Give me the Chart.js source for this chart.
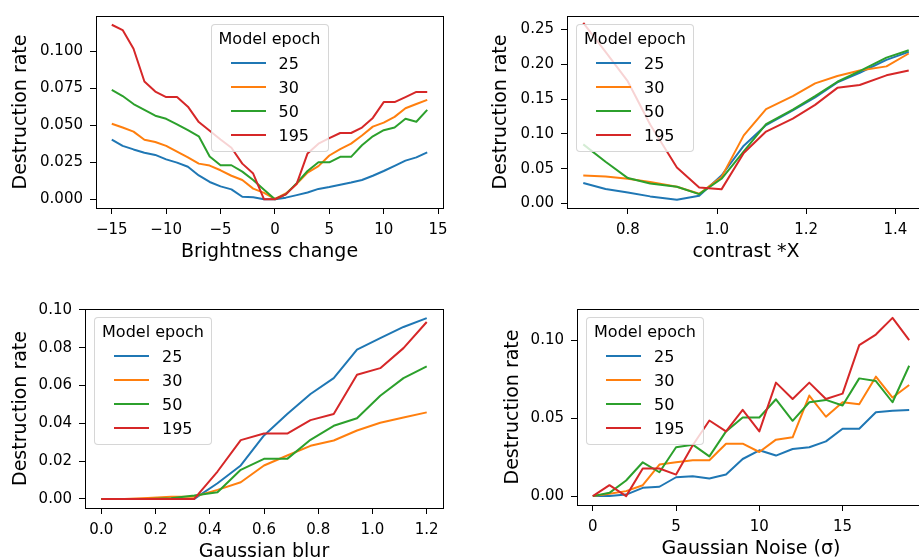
<!DOCTYPE html>
<html>
<head>
<meta charset="utf-8">
<script src="https://cdn.jsdelivr.net/npm/chart.js@4.4.0/dist/chart.umd.min.js"></script>
<style>
  html, body { margin: 0; padding: 0; background: #fff; overflow: hidden; width: 919px; height: 558px; }
  .panel { position: absolute; }
  .legend {
    position: absolute; box-sizing: border-box; width: 118px; padding: 2px 0 4px;
    background: rgba(255,255,255,0.8); border: 1px solid rgba(204,204,204,0.8); border-radius: 4px;
    font: 16px "DejaVu Sans"; color: #000;
  }
  .legend .title { text-align: center; line-height: 24px; white-space: nowrap; }
  .legend .row { display: flex; align-items: center; height: 24px; padding-left: 19px; }
  .legend .swatch { width: 35px; height: 2px; margin-right: 13px; }
</style>
</head>
<body>
<div class="panel" style="left:0;top:0"><canvas id="bright" width="460" height="267"></canvas><div class="legend" id="legBright"></div></div>
<div class="panel" style="left:480px;top:0"><canvas id="contrast" width="470" height="267"></canvas><div class="legend" id="legContrast"></div></div>
<div class="panel" style="left:0;top:290px"><canvas id="blur" width="460" height="277"></canvas><div class="legend" id="legBlur"></div></div>
<div class="panel" style="left:492px;top:290px"><canvas id="noise" width="458" height="274"></canvas><div class="legend" id="legNoise"></div></div>
<script>
const epochs = ['25', '30', '50', '195'];
const colors = ['#1f77b4', '#ff7f0e', '#2ca02c', '#d62728'];

// brightness shift
const brightX = [-15,-14,-13,-12,-11,-10,-9,-8,-7,-6,-5,-4,-3,-2,-1,0,1,2,3,4,5,6,7,8,9,10,11,12,13,14];
const bright25 = [0.0404,0.0361,0.0337,0.0315,0.0300,0.0270,0.0248,0.0220,0.0161,0.0117,0.0087,0.0067,0.0017,0.0013,0,0,0.0011,0.0028,0.0046,0.0070,0.0083,0.0098,0.0113,0.0130,0.0159,0.0191,0.0226,0.0261,0.0283,0.0317];
const bright30 = [0.0511,0.0485,0.0457,0.0402,0.0387,0.0361,0.0322,0.0283,0.0241,0.0228,0.0196,0.0159,0.0130,0.0072,0.0043,0.0002,0.0039,0.0104,0.0180,0.0224,0.0296,0.0339,0.0376,0.0431,0.0491,0.0518,0.0557,0.0615,0.0644,0.0672];
const bright50 = [0.0739,0.0698,0.0644,0.0604,0.0565,0.0544,0.0507,0.0467,0.0426,0.0289,0.0230,0.0230,0.0187,0.0130,0.0065,0,0.0033,0.0109,0.0191,0.0250,0.0250,0.0287,0.0287,0.0365,0.0426,0.0467,0.0485,0.0544,0.0524,0.0604];
const bright195 = [0.1180,0.1144,0.1018,0.0796,0.0728,0.0691,0.0691,0.0626,0.0522,0.0463,0.0404,0.0348,0.0241,0.0174,0,0,0.0033,0.0104,0.0310,0.0376,0.0413,0.0448,0.0448,0.0485,0.0550,0.0657,0.0657,0.0691,0.0726,0.0726];

// contrast factor
const contrastX = [0.70,0.75,0.80,0.85,0.91,0.96,1.01,1.06,1.11,1.17,1.22,1.27,1.32,1.38,1.43];
const contrast25 = [0.0295,0.0208,0.0157,0.0102,0.0055,0.0111,0.0402,0.0831,0.1127,0.1339,0.1524,0.1741,0.1879,0.2064,0.2179];
const contrast30 = [0.0402,0.0388,0.0355,0.0309,0.0240,0.0139,0.0379,0.0979,0.1357,0.1542,0.1727,0.1833,0.1911,0.1971,0.2156];
const contrast50 = [0.0850,0.0600,0.0365,0.0286,0.0240,0.0134,0.0355,0.0748,0.1140,0.1348,0.1542,0.1750,0.1902,0.2096,0.2202];
const contrast195 = [0.2595,0.2180,0.1754,0.1136,0.0517,0.0230,0.0203,0.0725,0.1034,0.1219,0.1417,0.1662,0.1704,0.1842,0.1911];

// gaussian blur
const blurX = [0,0.0857,0.1714,0.2571,0.3429,0.4286,0.5143,0.6,0.6857,0.7714,0.8571,0.9429,1.0286,1.1143,1.2];
const blur25 = [0,0,0,0,0,0.0083,0.0177,0.0336,0.0449,0.0555,0.0639,0.0790,0.0851,0.0910,0.0957];
const blur30 = [0,0,0.0005,0.0012,0.0012,0.0048,0.0088,0.0177,0.0230,0.0281,0.0309,0.0362,0.0403,0.0431,0.0458];
const blur50 = [0,0,0,0.0004,0.0018,0.0035,0.0154,0.0212,0.0212,0.0313,0.0387,0.0427,0.0546,0.0639,0.0701];
const blur195 = [0,0,0,0,0,0.0145,0.0311,0.0346,0.0346,0.0417,0.0449,0.0657,0.0692,0.0798,0.0936];

// gaussian noise
const noiseX = [0,1,2,3,4,5,6,7,8,9,10,11,12,13,14,15,16,17,18,19];
const noise25 = [0,0,0.0010,0.0053,0.0060,0.0121,0.0128,0.0113,0.0138,0.0238,0.0294,0.0260,0.0302,0.0313,0.0351,0.0432,0.0432,0.0538,0.0547,0.0553];
const noise30 = [0,0.0015,0.0032,0.0070,0.0202,0.0217,0.0230,0.0230,0.0336,0.0336,0.0283,0.0362,0.0377,0.0645,0.0509,0.0602,0.0589,0.0766,0.0632,0.0713];
const noise50 = [0,0.0021,0.0100,0.0217,0.0153,0.0313,0.0330,0.0255,0.0415,0.0504,0.0504,0.0621,0.0483,0.0602,0.0617,0.0581,0.0755,0.0738,0.0602,0.0836];
const noise195 = [0,0.0070,0,0.0177,0.0177,0.0138,0.0326,0.0485,0.0415,0.0553,0.0415,0.0728,0.0623,0.0728,0.0623,0.0657,0.0968,0.1036,0.1143,0.1000];

// tick labels
const brightTicks = [-15,-10,-5,0,5,10,15];
const brightTickLabels = ['\u221215','\u221210','\u22125','0','5','10','15'];
const brightYTicks = [0,0.025,0.05,0.075,0.1];
const brightYLabels = ['0.000','0.025','0.050','0.075','0.100'];
const contrastTicks = [0.8,1.0,1.2,1.4];
const contrastTickLabels = ['0.8','1.0','1.2','1.4'];
const contrastYTicks = [0,0.05,0.1,0.15,0.2,0.25];
const contrastYLabels = ['0.00','0.05','0.10','0.15','0.20','0.25'];
const blurTicks = [0,0.2,0.4,0.6,0.8,1.0,1.2];
const blurTickLabels = ['0.0','0.2','0.4','0.6','0.8','1.0','1.2'];
const blurYTicks = [0,0.02,0.04,0.06,0.08,0.1];
const blurYLabels = ['0.00','0.02','0.04','0.06','0.08','0.10'];
const noiseTicks = [0,5,10,15];
const noiseTickLabels = ['0','5','10','15'];
const noiseYTicks = [0,0.05,0.1];
const noiseYLabels = ['0.00','0.05','0.10'];

Chart.defaults.font.family = '"DejaVu Sans", sans-serif';
Chart.defaults.color = '#000';
Chart.defaults.animation = false;

// axes frame on all four sides
const framePlugin = {
    id: 'frame',
    afterDatasetsDraw(chart) {
        const {ctx, chartArea: a} = chart;
        ctx.save();
        ctx.strokeStyle = '#000';
        ctx.lineWidth = 1;
        ctx.strokeRect(Math.round(a.left) + 0.5, Math.round(a.top) + 0.5, Math.round(a.width), Math.round(a.height));
        ctx.restore();
    }
};

// boxed legend drawn in html, inside the plot area
const htmlLegend = {
    id: 'htmlLegend',
    afterUpdate(chart, args, opts) {
        const box = document.getElementById(opts.containerID);
        box.innerHTML = '';
        const title = document.createElement('div');
        title.className = 'title';
        title.textContent = opts.title;
        box.appendChild(title);
        chart.data.datasets.forEach(ds => {
            const row = document.createElement('div');
            row.className = 'row';
            const sw = document.createElement('span');
            sw.className = 'swatch';
            sw.style.background = ds.borderColor;
            const txt = document.createElement('span');
            txt.textContent = ds.label;
            row.appendChild(sw);
            row.appendChild(txt);
            box.appendChild(row);
        });
        const a = chart.chartArea;
        box.style.top = (a.top + opts.dy) + 'px';
        box.style.left = (opts.center ? a.left + a.width / 2 - 59 : a.left + opts.dx) + 'px';
    }
};

function buildPanel(id, cfg) {
    const datasets = cfg.series.map((vals, i) => ({
        label: epochs[i],
        data: cfg.xs.map((x, j) => ({x: x, y: vals[j]})),
        borderColor: colors[i],
        backgroundColor: colors[i],
        borderWidth: 2,
        pointRadius: 0,
        tension: 0,
        borderJoinStyle: 'round',
        order: cfg.series.length - i
    }));

    new Chart(document.getElementById(id), {
        type: 'line',
        data: {datasets},
        options: {
            responsive: false,
            devicePixelRatio: 1,
            layout: {padding: {top: cfg.padTop, right: cfg.padRight, left: 0, bottom: 0}},
            scales: {
                x: {
                    type: 'linear',
                    min: cfg.xMin,
                    max: cfg.xMax,
                    afterBuildTicks: s => { s.ticks = cfg.xTicks.map(v => ({value: v})); },
                    afterFit: s => { s.height = cfg.xAxisH; },
                    ticks: {
                        autoSkip: false, maxRotation: 0, padding: 7,
                        font: {size: 15},
                        callback: (v, i) => cfg.xLabels[i]
                    },
                    grid: {drawOnChartArea: false, tickLength: 6, tickColor: '#000'},
                    border: {color: '#000', width: 1},
                    title: {display: true, text: cfg.xTitle, font: {size: 19}, padding: {top: 0, bottom: 4}}
                },
                y: {
                    type: 'linear',
                    min: cfg.yMin,
                    max: cfg.yMax,
                    afterBuildTicks: s => { s.ticks = cfg.yTicks.map(v => ({value: v})); },
                    afterFit: s => { s.width = cfg.yAxisW; },
                    ticks: {
                        autoSkip: false, padding: 7,
                        font: {size: 15},
                        callback: (v, i) => cfg.yLabels[i]
                    },
                    grid: {drawOnChartArea: false, tickLength: 6, tickColor: '#000'},
                    border: {color: '#000', width: 1},
                    title: {display: true, text: 'Destruction rate', font: {size: 19}, padding: {top: 10, bottom: 0}}
                }
            },
            plugins: {
                legend: {display: false},
                tooltip: {enabled: false},
                htmlLegend: {containerID: cfg.legendId, title: 'Model epoch', center: !!cfg.legendCenter, dx: 9, dy: 8}
            }
        },
        plugins: [framePlugin, htmlLegend]
    });
}

buildPanel('bright', {
    xs: brightX, series: [bright25, bright30, bright50, bright195],
    xMin: -16.45, xMax: 15.45, yMin: -0.0059, yMax: 0.1239,
    xTicks: brightTicks, xLabels: brightTickLabels, yTicks: brightYTicks, yLabels: brightYLabels,
    xTitle: 'Brightness change', yAxisW: 96, xAxisH: 59, padTop: 10, padRight: 17,
    legendId: 'legBright', legendCenter: true
});

buildPanel('contrast', {
    xs: contrastX, series: [contrast25, contrast30, contrast50, contrast195],
    xMin: 0.6635, xMax: 1.4665, yMin: -0.0065, yMax: 0.2695,
    xTicks: contrastTicks, xLabels: contrastTickLabels, yTicks: contrastYTicks, yLabels: contrastYLabels,
    xTitle: 'contrast *X', yAxisW: 87, xAxisH: 59, padTop: 9, padRight: 25,
    legendId: 'legContrast'
});

buildPanel('blur', {
    xs: blurX, series: [blur25, blur30, blur50, blur195],
    xMin: -0.06, xMax: 1.26, yMin: -0.0048, yMax: 0.1005,
    xTicks: blurTicks, xLabels: blurTickLabels, yTicks: blurYTicks, yLabels: blurYLabels,
    xTitle: 'Gaussian blur', yAxisW: 85, xAxisH: 59, padTop: 19, padRight: 17,
    legendId: 'legBlur'
});

buildPanel('noise', {
    xs: noiseX, series: [noise25, noise30, noise50, noise195],
    xMin: -0.95, xMax: 19.95, yMin: -0.0057, yMax: 0.12,
    xTicks: noiseTicks, xLabels: noiseTickLabels, yTicks: noiseYTicks, yLabels: noiseYLabels,
    xTitle: 'Gaussian Noise (\u03c3)', yAxisW: 85, xAxisH: 59, padTop: 19, padRight: 25,
    legendId: 'legNoise'
});
</script>
</body>
</html>
